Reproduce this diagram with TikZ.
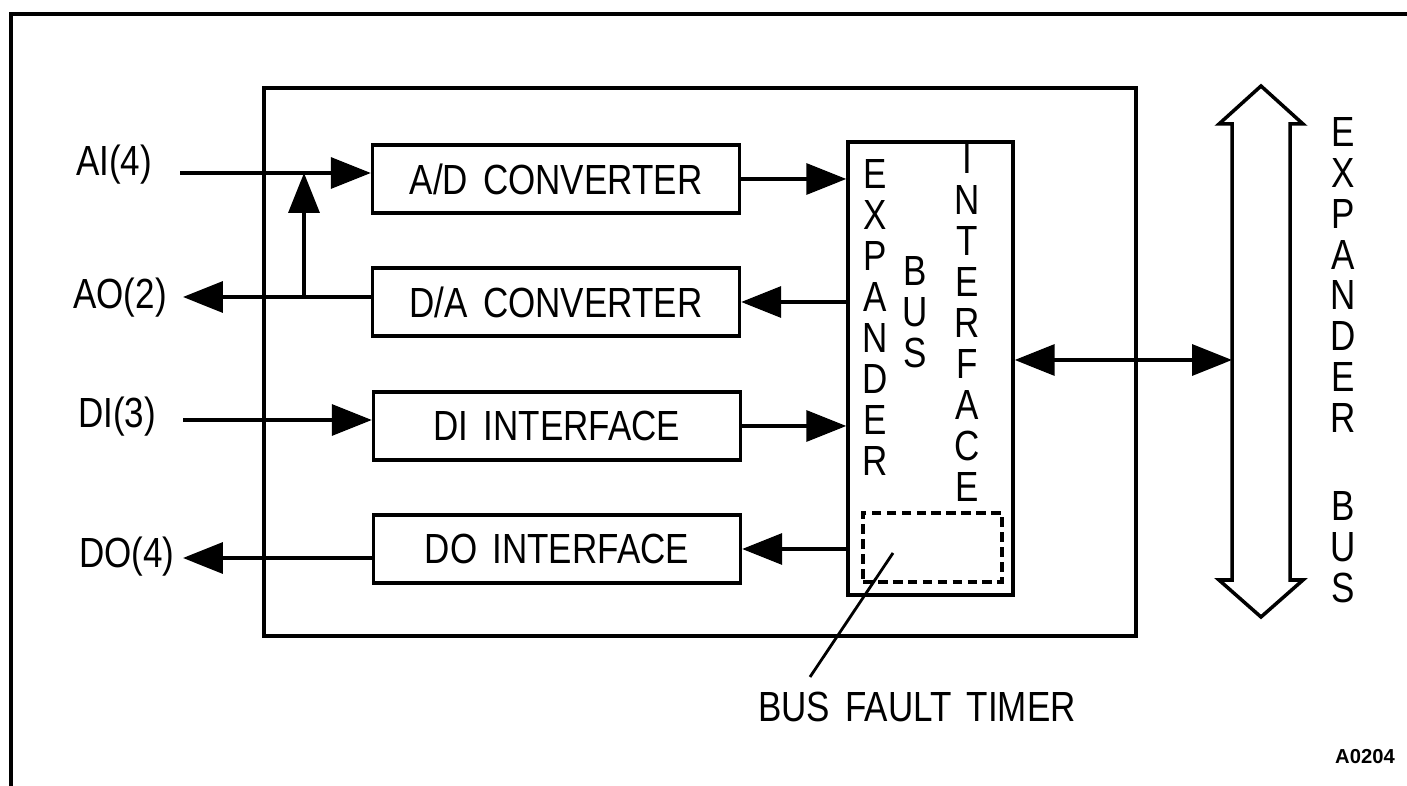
\documentclass[tikz,border=0pt]{standalone}
\usepackage{fontspec}
\newfontfamily\plotfont{Liberation Sans}[FakeStretch=0.83]
\newfontfamily\tagfont{Liberation Sans}
\newcommand{\plotlabel}{\plotfont\fontsize{24}{23.3}\selectfont\spaceskip=0.36em}
\usetikzlibrary{arrows.meta}

\begin{document}
\begin{tikzpicture}[x=0.02cm, y=-0.02cm, line width=2pt,
		blk/.style={draw, minimum width=7.34cm, minimum height=1.36cm, font=\plotlabel},
		sig/.style={-{Triangle[length=0.8cm, width=0.62cm]}},
		duplex/.style={{Triangle[length=0.8cm, width=0.62cm]}-{Triangle[length=0.8cm, width=0.62cm]}},
		letters/.style={align=center, inner sep=0pt, font=\plotlabel},
		port/.style={font=\plotlabel, inner sep=0pt}]
			%%%%% START %%%%%
			\useasboundingbox (0, 0) rectangle (1407, 786);
			
			% sheet frame, top and left edges only
			\draw[line width=2.2pt] (1407, 14) -- (11, 14) -- (11, 786);
			
			% module outline
			\draw (264, 88) rectangle (1136, 636);
			
			\node[blk] (ad) at (556, 179) {A/D CONVERTER};
			\node[blk] (da) at (556, 302) {D/A CONVERTER};
			\node[blk] (dinp) at (557, 426) {DI INTERFACE};
			\node[blk] (dout) at (557, 549) {DO INTERFACE};
			
			% expander bus interface with the timer inside
			\node[draw, minimum width=3.3cm, minimum height=9.06cm] (ebi) at (930.5, 368.5) {};
			\node[letters] (ebiexp) at (875, 317.5) {E\\X\\P\\A\\N\\D\\E\\R};
			\node[letters] (ebibus) at (915, 312) {B\\U\\S};
			\node[letters] (ebiint) at (967, 323) {I\\N\\T\\E\\R\\F\\A\\C\\E};
			\node[draw, line width=1.8pt, dash pattern=on 5.5pt off 3pt, minimum width=2.78cm, minimum height=1.38cm] (bft) at (932.5, 547.5) {};
			
			% field side
			\node[port] (ailbl) at (114, 165) {AI(4)};
			\node[port] (aolbl) at (120, 298) {AO(2)};
			\node[port] (dilbl) at (117, 417) {DI(3)};
			\node[port] (dolbl) at (127, 557) {DO(4)};
			
			\coordinate (ai) at (180, 173);
			\coordinate (ao) at (183, 297);
			\coordinate (di) at (183, 420);
			\coordinate (do) at (183, 558);
			\coordinate (tap) at (304, 297);
			
			\draw[sig] (ai) -- (ai -| ad.west);
			\draw[sig] (da.west |- ao) -- (ao);
			\draw[sig] (tap) -- (tap |- ai);
			\draw[sig] (di) -- (di -| dinp.west);
			\draw[sig] (dout.west |- do) -- (do);
			
			% interface side
			\draw[sig] (ad.east) -- (ad.east -| ebi.west);
			\draw[sig] (da.east -| ebi.west) -- (da.east);
			\draw[sig] (dinp.east) -- (dinp.east -| ebi.west);
			\draw[sig] (dout.east -| ebi.west) -- (dout.east);
			
			% expander bus
			\draw (1261, 86) -- (1303, 124) -- (1290, 124) -- (1290, 580) -- (1303, 580) -- (1261, 617)
				-- (1219, 580) -- (1232, 580) -- (1232, 124) -- (1219, 124) -- cycle;
			\coordinate (bus) at (1232, 360);
			\draw[duplex] (bus -| ebi.east) -- (bus);
			\node[letters] (busexp) at (1343, 275) {E\\X\\P\\A\\N\\D\\E\\R};
			\node[letters] (busbus) at (1343, 547) {B\\U\\S};
			
			% timer callout
			\coordinate (bftpin) at (893, 553);
			\coordinate (bftfoot) at (810, 677);
			\draw[line width=1.6pt] (bftpin) -- (bftfoot);
			\node[port] (bftlbl) at (917, 707) {BUS FAULT TIMER};
			
			\node[font=\tagfont\fontsize{11.5}{13}\selectfont\bfseries] (tag) at (1365, 757) {A0204};
			%%%%% END %%%%%
		\end{tikzpicture}
\end{document}
